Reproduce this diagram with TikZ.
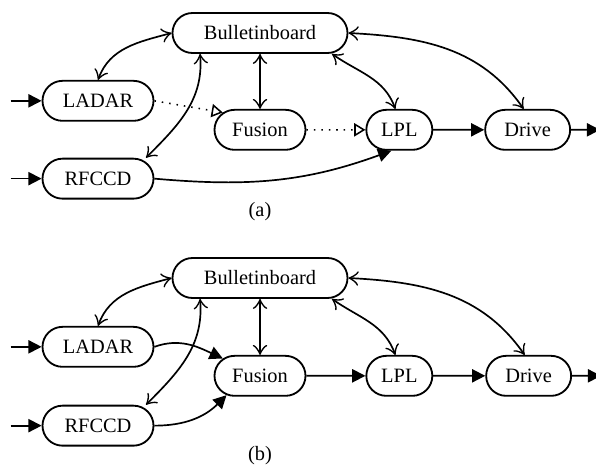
\documentclass[tikz,border=0pt]{standalone}
\usepackage{fontspec}
\setmainfont{Liberation Serif}
\usetikzlibrary{positioning, shapes, arrows.meta}

\begin{document}
\begin{tikzpicture}[node distance = 1cm and 1cm,
    box/.style={draw, rounded rectangle, minimum height=1cm, inner xsep=0pt, line width=1.3pt, font=\fontsize{14.5}{17}\selectfont},
    arrow/.style={-{Triangle[length=3.3mm, width=3.3mm]}, line width=1.2pt},
    link/.style={{Classical TikZ Rightarrow[length=2.5mm, width=3.6mm]}-{Classical TikZ Rightarrow[length=2.5mm, width=3.6mm]}, line width=1.2pt},
    hint/.style={-{Triangle[open, length=2.8mm, width=3.3mm]}, line width=1.1pt, dash pattern=on 1.1pt off 4.2pt},
    caption/.style={font=\fontsize{14.5}{17}\selectfont}]
        \useasboundingbox (0,0) rectangle (14.9,-11.75);

        % Nodes (a)
        \node[box, minimum width=4.375cm] (board1) at (6.5,-0.825) {Bulletinboard};
        \node[box, minimum width=2.275cm, below=1.375cm of board1] (fusion1) {Fusion};
        \node[box, minimum width=2.775cm, below left=0.65cm and 1.475cm of board1] (ladar1) {LADAR};
        \node[box, minimum width=2.775cm, below=0.9cm of ladar1] (rfccd1) {RFCCD};
        \node[box, minimum width=1.65cm, right=1.475cm of fusion1] (lpl1) {LPL};
        \node[box, minimum width=2.125cm, right=1.275cm of lpl1] (drive1) {Drive};
        \coordinate[left=0.775cm of ladar1] (inl1);
        \coordinate[left=0.775cm of rfccd1] (inr1);
        \coordinate[right=0.725cm of drive1] (out1);
        \node[caption] (capa) at (6.5,-5.3) {(a)};

        % Arrows (a)
        \draw[arrow] (inl1) -- (ladar1);
        \draw[arrow] (inr1) -- (rfccd1);
        \draw[link] (ladar1.north) to[out=70, in=195] (board1.west);
        \draw[link] ([xshift=1.2cm]rfccd1.north) to[out=45, in=-85] ([xshift=-1.5cm]board1.south);
        \draw[link] (board1) -- (fusion1);
        \draw[link] ([xshift=1.8cm]board1.south) to[out=-35, in=110] ([xshift=-0.1cm]lpl1.north);
        \draw[link] (board1.east) to[out=-3, in=125] ([xshift=-0.1cm]drive1.north);
        \draw[hint] (ladar1.east) -- (fusion1.155);
        \draw[hint] (fusion1) -- (lpl1);
        \draw[arrow] (rfccd1.east) to[out=-5, in=-160] ([xshift=-0.2cm]lpl1.south);
        \draw[arrow] (lpl1) -- (drive1);
        \draw[arrow] (drive1) -- (out1);

        % Nodes (b)
        \node[box, minimum width=4.375cm] (board2) at (6.5,-6.95) {Bulletinboard};
        \node[box, minimum width=2.275cm, below=1.4cm of board2] (fusion2) {Fusion};
        \node[box, minimum width=2.775cm, below left=0.675cm and 1.475cm of board2] (ladar2) {LADAR};
        \node[box, minimum width=2.775cm, below=0.925cm of ladar2] (rfccd2) {RFCCD};
        \node[box, minimum width=1.65cm, right=1.475cm of fusion2] (lpl2) {LPL};
        \node[box, minimum width=2.125cm, right=1.3cm of lpl2] (drive2) {Drive};
        \coordinate[left=0.775cm of ladar2] (inl2);
        \coordinate[left=0.775cm of rfccd2] (inr2);
        \coordinate[right=0.725cm of drive2] (out2);
        \node[caption] (capb) at (6.5,-11.4) {(b)};

        % Arrows (b)
        \draw[arrow] (inl2) -- (ladar2);
        \draw[arrow] (inr2) -- (rfccd2);
        \draw[link] (ladar2.north) to[out=70, in=195] (board2.west);
        \draw[link] ([xshift=1.2cm]rfccd2.north) to[out=45, in=-85] ([xshift=-1.5cm]board2.south);
        \draw[link] (board2) -- (fusion2);
        \draw[link] ([xshift=1.8cm]board2.south) to[out=-35, in=110] ([xshift=-0.1cm]lpl2.north);
        \draw[link] (board2.east) to[out=-3, in=125] ([xshift=-0.1cm]drive2.north);
        \draw[arrow] (ladar2.east) to[out=20, in=155] (fusion2.155);
        \draw[arrow] (rfccd2.east) to[out=0, in=-135] (fusion2.210);
        \draw[arrow] (fusion2) -- (lpl2);
        \draw[arrow] (lpl2) -- (drive2);
        \draw[arrow] (drive2) -- (out2);
    \end{tikzpicture}
\end{document}
